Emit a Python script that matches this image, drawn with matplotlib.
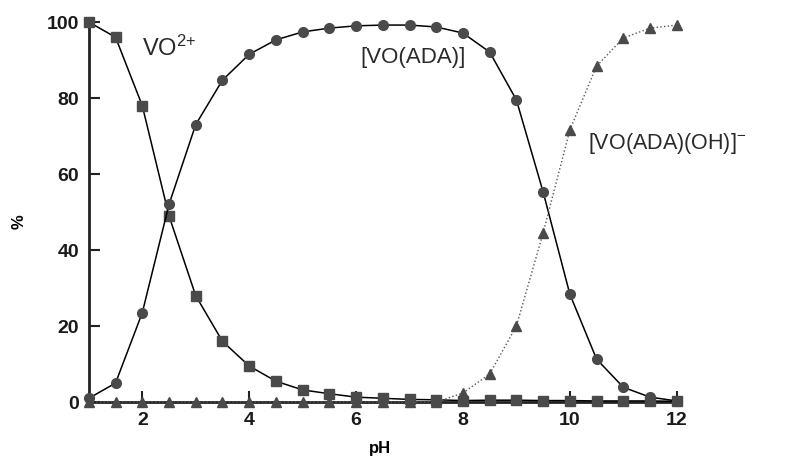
import matplotlib
matplotlib.use("Agg")
import matplotlib.pyplot as plt

plt.rcParams["mathtext.fontset"] = "custom"
plt.rcParams["mathtext.rm"] = "Liberation Sans"
plt.rcParams["mathtext.it"] = "Liberation Sans"
plt.rcParams["mathtext.bf"] = "Liberation Sans:bold"

ph = [1, 1.5, 2, 2.5, 3, 3.5, 4, 4.5, 5, 5.5, 6, 6.5, 7, 7.5, 8, 8.5,
      9, 9.5, 10, 10.5, 11, 11.5, 12]
vo = [100, 96, 78, 49, 28, 16, 9.5, 5.5, 3.2, 2.2, 1.3, 1.0, 0.7, 0.6,
      0.4, 0.5, 0.5, 0.4, 0.4, 0.3, 0.3, 0.3, 0.2]
vo_ada = [1, 5, 23.5, 52, 73, 84.7, 91.5, 95.3, 97.4, 98.4, 99, 99.2, 99.2,
          98.7, 97.1, 92.1, 79.5, 55.3, 28.4, 11.3, 3.9, 1.3, 0.3]
vo_ada_oh = [0, 0, 0, 0, 0, 0, 0, 0, 0, 0, 0, 0, 0, 0,
             2.4, 7.4, 20, 44.5, 71.6, 88.4, 95.8, 98.4, 99.2]

xticks = [2, 4, 6, 8, 10, 12]
yticks = [0, 20, 40, 60, 80, 100]

fig = plt.figure(figsize=(7.86, 4.59), dpi=100)
ax = fig.add_axes([0.113, 0.124, 0.748, 0.828])

mc = "#4a4a4a"
ax.plot(ph, vo, "-", color="black", lw=1.1, marker="s", ms=7,
        mfc=mc, mec=mc, zorder=3, clip_on=False)
ax.plot(ph, vo_ada, "-", color="black", lw=1.1, marker="o", ms=7,
        mfc=mc, mec=mc, zorder=3, clip_on=False)
ax.plot(ph, vo_ada_oh, ":", color="#555555", lw=1.0, marker="^", ms=7,
        mfc=mc, mec=mc, zorder=3, clip_on=False)

ax.set_xlim(1, 12)
ax.set_ylim(0, 100)
ax.set_xticks(xticks)
ax.set_yticks(yticks)
for s in ["top", "right"]:
    ax.spines[s].set_visible(False)
for s in ["left", "bottom"]:
    ax.spines[s].set_linewidth(2)
    ax.spines[s].set_color("#222222")
ax.tick_params(direction="in", length=8, width=1.5, color="#222222",
               labelsize=14, pad=7)
for lab in ax.get_xticklabels() + ax.get_yticklabels():
    lab.set_family("Liberation Sans")
    lab.set_fontweight("bold")
    lab.set_color("#1a1a1a")

fs = dict(family="Liberation Sans", color="#2a2a2a")
ax.text(1.99, 93, "VO$^{2{+}}$", fontsize=17, ha="left", va="center", **fs)
ax.text(7.06, 90.7, "[VO(ADA)]", fontsize=16, ha="center", va="center", **fs)
ax.text(10.34, 68, "[VO(ADA)(OH)]$^{-}$", fontsize=15.5, ha="left",
        va="center", clip_on=False, **fs)

fig.text(19 / 786, 1 - 222 / 459, "%", rotation=90, ha="center",
         va="center", fontsize=12, fontweight="bold", family="Liberation Sans")
fig.text(380 / 786, 1 - 449 / 459, "pH", ha="center", va="center",
         fontsize=12, fontweight="bold", family="Liberation Sans")

fig.savefig("out.png", dpi=100)
